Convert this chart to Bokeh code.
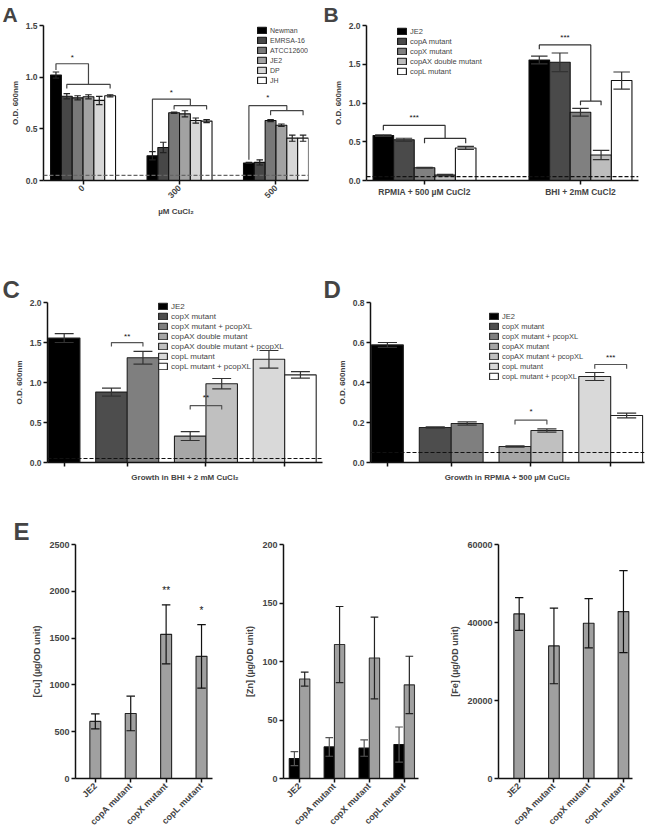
import math
from bokeh.plotting import figure
from bokeh.layouts import column, row
from bokeh.models import (FixedTicker, Span, Legend, LegendItem,
                          ColumnDataSource, Range1d, NumeralTickFormatter)
from bokeh.embed import file_html
from bokeh.resources import INLINE
from bokeh.core.properties import value

FONT = "Liberation Sans"

# ---------------- Panel A data ----------------
a_conc = ["0", "300", "500"]
a_strains = ["Newman", "EMRSA-16", "ATCC12600", "JE2", "DP", "JH"]
a_colors = ["#000000", "#474747", "#787878", "#a2a2a2", "#d7d7d7", "#ffffff"]
a_newman = [1.02, 0.24, 0.17]
a_newman_err = [0.03, 0.04, 0.005]
a_emrsa = [0.815, 0.32, 0.175]
a_emrsa_err = [0.025, 0.05, 0.025]
a_atcc = [0.80, 0.655, 0.58]
a_atcc_err = [0.02, 0.006, 0.01]
a_je2 = [0.81, 0.645, 0.535]
a_je2_err = [0.02, 0.03, 0.012]
a_dp = [0.775, 0.58, 0.41]
a_dp_err = [0.04, 0.025, 0.03]
a_jh = [0.82, 0.575, 0.41]
a_jh_err = [0.01, 0.015, 0.03]

# ---------------- Panel B data ----------------
b_media = ["RPMIA + 500 µM CuCl2", "BHI + 2mM CuCl2"]
b_strains = ["JE2", "copA mutant", "copX mutant", "copAX double mutant", "copL mutant"]
b_colors = ["#000000", "#4a4a4a", "#808080", "#bdbdbd", "#ffffff"]
b_je2 = [0.58, 1.555]
b_je2_err = [0.01, 0.05]
b_copa = [0.525, 1.525]
b_copa_err = [0.02, 0.12]
b_copx = [0.165, 0.88]
b_copx_err = [0.005, 0.05]
b_copax = [0.07, 0.33]
b_copax_err = [0.01, 0.06]
b_copl = [0.42, 1.29]
b_copl_err = [0.02, 0.11]

# ---------------- Panel C data ----------------
c_labels = ["JE2", "copX mutant", "copX mutant + pcopXL", "copAX double mutant",
            "copAX double mutant + pcopXL", "copL mutant", "copL mutant + pcopXL"]
c_mean = [1.555, 0.88, 1.31, 0.33, 0.985, 1.29, 1.095]
c_err = [0.055, 0.05, 0.08, 0.055, 0.065, 0.11, 0.04]
cd_group_sizes = [1, 2, 2, 2]
cd_colors = ["#000000", "#4d4d4d", "#7f7f7f", "#a6a6a6", "#c0c0c0", "#d9d9d9", "#ffffff"]

# ---------------- Panel D data ----------------
d_labels = ["JE2", "copX mutant", "copX mutant + pcopXL", "copAX mutant",
            "copAX mutant + pcopXL", "copL mutant", "copL mutant + pcopXL"]
d_mean = [0.588, 0.175, 0.195, 0.08, 0.16, 0.43, 0.235]
d_err = [0.012, 0.003, 0.008, 0.003, 0.008, 0.02, 0.012]

# ---------------- Panel E data ----------------
e_strains = ["JE2", "copA mutant", "copX mutant", "copL mutant"]
e_cu = [610, 695, 1540, 1305]
e_cu_err = [80, 185, 315, 340]
e_cu_stars = ["", "", "**", "*"]
e_zn_black = [17, 27, 26, 29]
e_zn_black_err = [6, 8, 7, 15]
e_zn_gray = [85, 114.5, 103, 80]
e_zn_gray_err = [6, 32.5, 35, 24.5]
e_fe = [42200, 34000, 39800, 42800]
e_fe_err = [4200, 9700, 6300, 10500]

GRAY = "#a0a0a0"


def new_fig(w, h, l, r, t, b, xr, yr, tick_fs="8.5px"):
    p = figure(width=w, height=h, x_range=Range1d(*xr), y_range=Range1d(*yr),
               output_backend="svg", toolbar_location=None,
               min_border_left=l, min_border_right=r, min_border_top=t, min_border_bottom=b)
    p.outline_line_color = None
    p.grid.visible = False
    for ax in p.axis:
        ax.axis_line_width = 1.5
        ax.axis_line_color = "#111111"
        ax.major_tick_line_width = 1.5
        ax.major_tick_line_color = "#111111"
        ax.major_tick_out = 4
        ax.major_tick_in = 0
        ax.minor_tick_line_color = None
        ax.major_label_text_font = FONT
        ax.major_label_text_font_style = "bold"
        ax.major_label_text_font_size = tick_fs
        ax.major_label_standoff = 2
        ax.axis_label_text_font = FONT
        ax.axis_label_text_font_style = "bold"
        ax.axis_label_text_font_size = "8px"
        ax.axis_label_standoff = 3
    return p


def panel_letter(p, txt, offset, size="24px"):
    p.title.text = txt
    p.title.text_font = FONT
    p.title.text_font_style = "bold"
    p.title.text_font_size = size
    p.title.align = "left"
    p.title.offset = offset
    p.title.standoff = 0


def errbars(p, xs, means, errs, half, color="#222222", lw=1.2):
    lo = [m - e for m, e in zip(means, errs)]
    hi = [m + e for m, e in zip(means, errs)]
    p.segment(x0=xs, y0=lo, x1=xs, y1=hi, line_color=color, line_width=lw)
    p.segment(x0=[x - half for x in xs], y0=hi, x1=[x + half for x in xs], y1=hi,
              line_color=color, line_width=lw)
    p.segment(x0=[x - half for x in xs], y0=lo, x1=[x + half for x in xs], y1=lo,
              line_color=color, line_width=lw)


def star_text(p, xs, ys, texts, size="8px"):
    keep = [(x, y, t) for x, y, t in zip(xs, ys, texts) if t]
    if not keep:
        return
    p.text(x=[k[0] for k in keep], y=[k[1] for k in keep], text=[k[2] for k in keep],
           text_font=value(FONT), text_font_size=size,
           text_align="center", text_baseline="middle", text_color="#111111")


def two_level(p, x_left, y0, y_top, xr0, xr1, y_r, tick, star, star_y, color="#444444"):
    xj = (xr0 + xr1) / 2
    p.line(x=[x_left, x_left, xj, xj], y=[y0, y_top, y_top, y_r], line_color=color, line_width=1.2)
    p.line(x=[xr0, xr0, xr1, xr1], y=[y_r - tick, y_r, y_r, y_r - tick], line_color=color, line_width=1.2)
    star_text(p, [(x_left + xj) / 2], [star_y], [star])


def pair(p, x0, x1, y, tick, star, star_y, color="#555555"):
    p.line(x=[x0, x0, x1, x1], y=[y - tick, y, y, y - tick], line_color=color, line_width=1.2)
    star_text(p, [(x0 + x1) / 2], [star_y], [star])


def make_legend(p, labels, renderers, loc, fs, indexed=False):
    items = []
    for i, lab in enumerate(labels):
        if indexed:
            items.append(LegendItem(label=lab, renderers=[renderers[0]], index=i))
        else:
            items.append(LegendItem(label=lab, renderers=[renderers[i]]))
    lg = Legend(items=items, location=loc, padding=0, margin=0, spacing=0,
                glyph_width=11, glyph_height=8, label_height=10, label_standoff=3,
                label_text_font=FONT, label_text_font_size=fs, border_line_color=None,
                background_fill_alpha=0)
    p.add_layout(lg)


# ================= Panel A =================
a_series = [a_newman, a_emrsa, a_atcc, a_je2, a_dp, a_jh]
a_errs = [a_newman_err, a_emrsa_err, a_atcc_err, a_je2_err, a_dp_err, a_jh_err]
a_bw = 0.1123
pA = new_fig(323, 255, 43, 15, 23, 73, (-0.41, 2.337), (0, 1.5))
panel_letter(pA, "A", -41, "21px")
pA.yaxis.ticker = FixedTicker(ticks=[0, 0.5, 1.0, 1.5])
pA.yaxis.formatter = NumeralTickFormatter(format="0.0")
pA.xaxis.ticker = FixedTicker(ticks=list(range(len(a_conc))))
pA.xaxis.major_label_overrides = {i: c for i, c in enumerate(a_conc)}
pA.xaxis.major_label_orientation = math.pi / 4
pA.yaxis.axis_label = "O.D. 600nm"
pA.xaxis.axis_label = "µM CuCl₂"
pA.add_layout(Span(location=0.05, dimension="width", line_dash="4 2", line_color="#666666", line_width=1.2))
a_x = []
a_rend = []
for i, (vals, errs) in enumerate(zip(a_series, a_errs)):
    xs = [g + (i - 2.5) * a_bw for g in range(len(a_conc))]
    a_x.append(xs)
    r = pA.vbar(x=xs, top=vals, width=a_bw, bottom=0, fill_color=a_colors[i],
                line_color="#111111", line_width=1.1)
    a_rend.append(r)
    errbars(pA, xs, vals, errs, 0.3 * a_bw)
a_br = [(0, 1.07, 1.13, 1, 5, 0.93, 0.04, 1.19),
        (1, 0.283, 0.787, 2, 5, 0.724, 0.038, 0.856),
        (2, 0.20, 0.724, 2, 5, 0.676, 0.045, 0.80)]
for g, y0, yt, i0, i1, yr, tk, sy in a_br:
    two_level(pA, a_x[0][g], y0, yt, a_x[i0][g], a_x[i1][g], yr, tk, "*", sy)
make_legend(pA, a_strains, a_rend, "top_right", "7px")

# ================= Panel B =================
b_series = [b_je2, b_copa, b_copx, b_copax, b_copl]
b_errs = [b_je2_err, b_copa_err, b_copx_err, b_copax_err, b_copl_err]
b_bw = 0.132
pB = new_fig(323, 255, 43, 8, 21, 75, (-0.372, 1.372), (0, 2.0))
panel_letter(pB, "B", -43, "21px")
pB.yaxis.ticker = FixedTicker(ticks=[0, 0.5, 1.0, 1.5, 2.0])
pB.yaxis.formatter = NumeralTickFormatter(format="0.0")
pB.xaxis.ticker = FixedTicker(ticks=list(range(len(b_media))))
pB.xaxis.major_label_overrides = {i: c for i, c in enumerate(b_media)}
pB.yaxis.axis_label = "O.D. 600nm"
pB.add_layout(Span(location=0.05, dimension="width", line_dash="4 2", line_color="#111111", line_width=1.2))
b_x = []
b_rend = []
for i, (vals, errs) in enumerate(zip(b_series, b_errs)):
    xs = [g + (i - 2) * b_bw for g in range(len(b_media))]
    b_x.append(xs)
    r = pB.vbar(x=xs, top=vals, width=b_bw, bottom=0, fill_color=b_colors[i],
                line_color="#111111", line_width=1.1)
    b_rend.append(r)
    errbars(pB, xs, vals, errs, 0.4 * b_bw, color="#333333")
b_br = [(0, 0.648, 0.711, 2, 4, 0.544, 0.063, 0.816),
        (1, 1.695, 1.749, 2, 3, 1.025, 0.055, 1.84)]
for g, y0, yt, i0, i1, yr, tk, sy in b_br:
    two_level(pB, b_x[0][g], y0, yt, b_x[i0][g], b_x[i1][g], yr, tk, "***", sy, color="#333333")
make_legend(pB, b_strains, b_rend, (30, 104), "7.5px")


# ================= Panels C & D =================
def cd_positions(sizes, gap=0.5):
    xs, centers, pos = [], [], 0.0
    for n in sizes:
        start = pos
        for k in range(n):
            xs.append(pos + 0.5)
            pos += 1
        centers.append((start + pos) / 2)
        pos += gap
    return xs, centers


cd_x, cd_centers = cd_positions(cd_group_sizes)


def cd_panel(means, errs, labels, xr, yr, yticks, border, xlabel, legend_loc, legend_fs):
    p = new_fig(323, 240, border[0], border[1], border[2], border[3], xr, yr)
    p.yaxis.ticker = FixedTicker(ticks=yticks)
    p.yaxis.formatter = NumeralTickFormatter(format="0.0")
    p.xaxis.ticker = FixedTicker(ticks=cd_centers)
    p.xaxis.major_label_overrides = {c: "" for c in cd_centers}
    p.xaxis.axis_label = xlabel
    p.xaxis.axis_label_standoff = 6
    p.yaxis.axis_label = "O.D. 600nm"
    p.add_layout(Span(location=0.05, dimension="width", line_dash="4 2", line_color="#111111", line_width=1.1))
    src = ColumnDataSource(dict(x=cd_x, top=means, color=cd_colors, label=labels))
    r = p.vbar(x="x", top="top", width=1.0, bottom=0, fill_color="color", line_color="#222222",
               line_width=1.1, source=src)
    errbars(p, cd_x, means, errs, 0.3, color="#333333")
    make_legend(p, labels, [r], legend_loc, legend_fs, indexed=True)
    return p


pC = cd_panel(c_mean, c_err, c_labels, (-0.03, 8.7), (0, 2.0), [0, 0.5, 1.0, 1.5, 2.0],
              (47, 1, 46, 33), "Growth in BHI + 2 mM CuCl₂", (110, 91), "8px")
panel_letter(pC, "C", -45)
pair(pC, cd_x[1], cd_x[2], 1.499, 0.05, "**", 1.573)
pair(pC, cd_x[3], cd_x[4], 0.712, 0.05, "**", 0.807)

pD = cd_panel(d_mean, d_err, d_labels, (-0.03, 8.56), (0, 0.8), [0, 0.2, 0.4, 0.6, 0.8],
              (47, 2, 47, 33), "Growth in RPMIA + 500 µM CuCl₂", (118, 81), "7.5px")
panel_letter(pD, "D", -47)
pair(pD, cd_x[3], cd_x[4], 0.212, 0.022, "*", 0.253)
pair(pD, cd_x[5], cd_x[6], 0.49, 0.021, "***", 0.527)


# ================= Panel E =================
def e_fig(w, border, xr, yr, yticks, ylabel):
    p = new_fig(w, 340, border[0], border[1], border[2], border[3], xr, yr, tick_fs="9px")
    p.yaxis.ticker = FixedTicker(ticks=yticks)
    p.xaxis.ticker = FixedTicker(ticks=list(range(len(e_strains))))
    p.xaxis.major_label_overrides = {i: s for i, s in enumerate(e_strains)}
    p.xaxis.major_label_orientation = math.pi / 4
    p.yaxis.axis_label = ylabel
    p.yaxis.axis_label_text_font_size = "9px"
    p.yaxis.axis_label_standoff = 4
    return p


ex = list(range(len(e_strains)))

pE1 = e_fig(215, (75, 3, 46, 54), (-0.56, 3.31), (0, 2500), [0, 500, 1000, 1500, 2000, 2500],
            "[Cu] (µg/OD unit)")
panel_letter(pE1, "E", -62)
pE1.vbar(x=ex, top=e_cu, width=0.31, bottom=0, fill_color=GRAY, line_color="#222222", line_width=1.1)
errbars(pE1, ex, e_cu, e_cu_err, 0.12, color="#111111")
star_text(pE1, ex, [m + e + 150 for m, e in zip(e_cu, e_cu_err)], e_cu_stars, size="10px")

pE2 = e_fig(215, (68, 12, 47, 57), (-0.46, 3.41), (0, 200), [0, 50, 100, 150, 200],
            "[Zn] (µg/OD unit)")
zb = 0.295
xb = [x - zb / 2 for x in ex]
xg = [x + zb / 2 for x in ex]
pE2.vbar(x=xb, top=e_zn_black, width=zb, bottom=0, fill_color="#000000", line_color="#111111", line_width=1.1)
pE2.vbar(x=xg, top=e_zn_gray, width=zb, bottom=0, fill_color=GRAY, line_color="#333333", line_width=1.1)
errbars(pE2, xb, e_zn_black, e_zn_black_err, 0.11, color="#555555")
errbars(pE2, xg, e_zn_gray, e_zn_gray_err, 0.11, color="#222222")

pE3 = e_fig(216, (68, 14, 49, 56), (-0.595, 3.26), (0, 60000), [0, 20000, 40000, 60000],
            "[Fe] (µg/OD unit)")
pE3.vbar(x=ex, top=e_fe, width=0.307, bottom=0, fill_color=GRAY, line_color="#222222", line_width=1.1)
errbars(pE3, ex, e_fe, e_fe_err, 0.12, color="#111111")

layout = column(row(pA, pB), row(pC, pD), row(pE1, pE2, pE3))
open("out.html", "w").write(file_html(layout, INLINE))
